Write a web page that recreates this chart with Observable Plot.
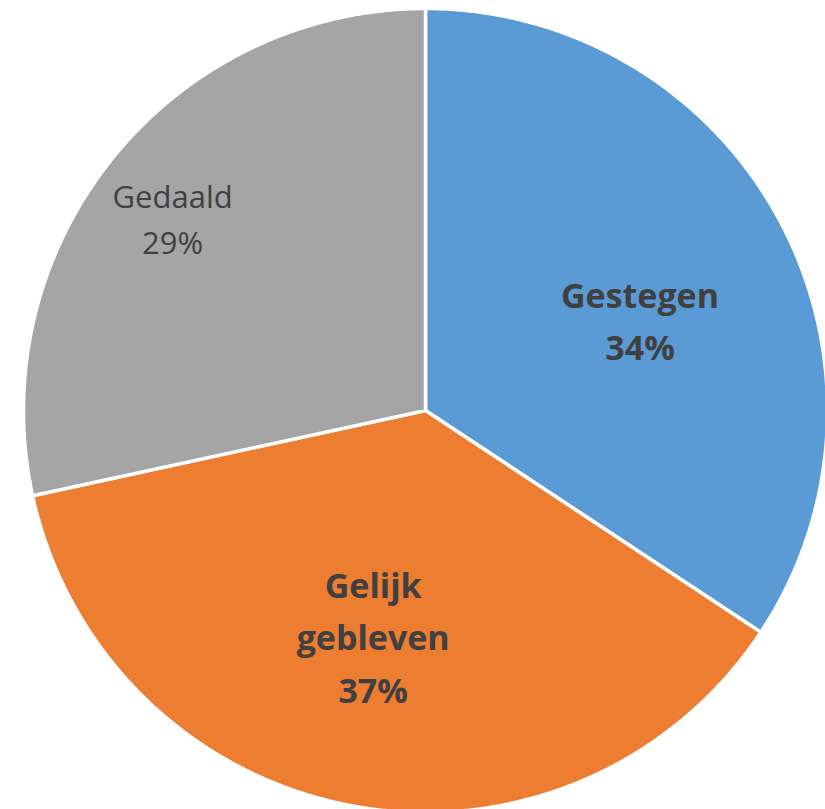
<!DOCTYPE html>
<html>
<head>
<meta charset="utf-8">
<script src="https://cdn.jsdelivr.net/npm/d3@7"></script>
<script src="https://cdn.jsdelivr.net/npm/@observablehq/plot@0.6"></script>
<style>
  html, body { margin: 0; padding: 0; background: #fff; }
  #chart svg { display: block; }
</style>
</head>
<body>
<div id="chart"></div>
<script>
const categories = ["Gestegen", "Gelijk gebleven", "Gedaald"];
const values = [34.3, 37.3, 28.4];
const labelLines = [["Gestegen", "34%"], ["Gelijk", "gebleven", "37%"], ["Gedaald", "29%"]];
const colors = ["#5B9BD5", "#ED7D31", "#A5A5A5"];
const boldLabel = [true, true, false];

const W = 825, H = 809;
const cx = 425, cy = 410, R = 402;

const pie = d3.pie().sort(null).value(d => d.value)(categories.map((c, i) => ({cat: c, value: values[i], i})));

// polygon points for each slice in unit coordinates (angle 0 at top, clockwise)
const slicePts = [];
pie.forEach(p => {
  const n = Math.max(2, Math.ceil((p.endAngle - p.startAngle) / 0.005));
  slicePts.push({cat: p.data.cat, x: 0, y: 0});
  for (let k = 0; k <= n; k++) {
    const a = p.startAngle + (p.endAngle - p.startAngle) * k / n;
    slicePts.push({cat: p.data.cat, x: Math.sin(a), y: Math.cos(a)});
  }
  slicePts.push({cat: p.data.cat, x: 0, y: 0});
});

// label anchors near mid-angle
const labelRadius = [0.582, 0.57, 0.793];
const labelShift = [0.0824, 0.045, -0.024];
const labels = [];
pie.forEach((p, i) => {
  const a = (p.startAngle + p.endAngle) / 2 + labelShift[i];
  const r = labelRadius[i];
  labels.push({cat: p.data.cat, x: Math.sin(a) * r, y: Math.cos(a) * r, text: labelLines[i].join("\n"), bold: boldLabel[i]});
});

const plot = Plot.plot({
  width: W,
  height: H,
  margin: 0,
  x: {domain: [(0 - cx) / R, (W - cx) / R], axis: null},
  y: {domain: [(cy - H) / R, cy / R], axis: null},
  color: {domain: categories, range: colors},
  style: {background: "#fff"},
  marks: [
    Plot.line(slicePts, {x: "x", y: "y", z: "cat", fill: "cat", stroke: "#fff", strokeWidth: 3.5, strokeLinejoin: "miter", curve: "linear"}),
    Plot.text(labels.filter(d => d.bold), {x: "x", y: "y", text: "text", fill: "#404040", fontSize: 34, fontWeight: "bold", fontFamily: "'Open Sans', sans-serif", lineHeight: 1.55}),
    Plot.text(labels.filter(d => !d.bold), {x: "x", y: "y", text: "text", fill: "#404040", fontSize: 31, fontWeight: "normal", fontFamily: "'Open Sans', sans-serif", lineHeight: 1.48})
  ]
});
document.getElementById("chart").appendChild(plot);
</script>
</body>
</html>
